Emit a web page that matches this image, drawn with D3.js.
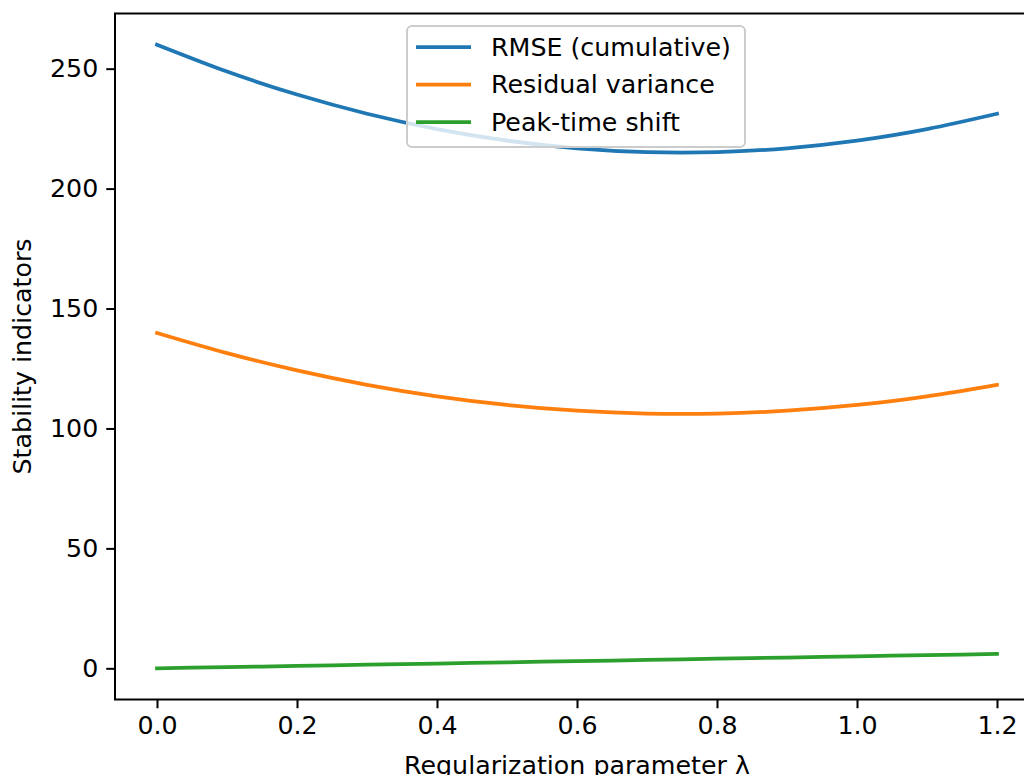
<!DOCTYPE html>
<html lang="en">
    <head>
        <meta charset="utf-8">
        <title>Stability indicators</title>
        <script type="text/javascript" src="https://cdn.jsdelivr.net/npm/d3@7"></script>
        <style type="text/css">
            body { margin: 0; background: white; overflow: hidden; }
            text { font-family: "DejaVu Sans", sans-serif; }
        </style>
    </head>

    <body>
        <script type="text/javascript">
            // Regularization parameter values
            var lambdas = [0.0, 0.1, 0.2, 0.3, 0.4, 0.5, 0.6, 0.7, 0.8, 0.9, 1.0, 1.1, 1.2];

            // Series
            var rmse     = [260.0, 248.8, 239.2, 231.2, 224.8, 220.0, 216.8, 215.2, 215.2, 216.8, 220.0, 224.8, 231.2];
            var residual = [139.8, 131.4, 124.2, 118.2, 113.4, 109.8, 107.4, 106.2, 106.2, 107.4, 109.8, 113.4, 118.2];
            var peakShift = [0.0, 0.5, 1.0, 1.5, 2.0, 2.5, 3.0, 3.5, 4.0, 4.5, 5.0, 5.5, 6.0];

            var seriesNames = ["RMSE (cumulative)", "Residual variance", "Peak-time shift"];
            var seriesColors = ["#1f77b4", "#ff7f0e", "#2ca02c"];
            var xTicks = [0.0, 0.2, 0.4, 0.6, 0.8, 1.0, 1.2];
            var yTicks = [0, 50, 100, 150, 200, 250];

            var w = 1024;
            var h = 775;
            var fontSize = 25.3;

            // Plot area (right spine falls just off the picture)
            var plotLeft = 115, plotRight = 1039, plotTop = 13.5, plotBottom = 699.5;

            var svg = d3.select("body")
                        .append("svg")
                        .attr("width", w)
                        .attr("height", h);

            var x = d3.scaleLinear().domain([-0.06, 1.26]).range([plotLeft, plotRight]);
            var y = d3.scaleLinear().domain([-13, 273]).range([plotBottom, plotTop]);

            var allSeries = [rmse, residual, peakShift];

            var line = d3.line()
                        .x(function(d, i) { return x(lambdas[i]); })
                        .y(function(d) { return y(d); })
                        .curve(d3.curveNatural);

            svg.selectAll("path.series")
                .data(allSeries)
                .enter()
                .append("path")
                .attr("class", "series")
                .attr("d", line)
                .attr("fill", "none")
                .attr("stroke", function(d, i) { return seriesColors[i]; })
                .attr("stroke-width", 3.75)
                .attr("stroke-linecap", "square");

            // Spines
            svg.append("rect")
                .attr("x", plotLeft)
                .attr("y", plotTop)
                .attr("width", plotRight - plotLeft)
                .attr("height", plotBottom - plotTop)
                .attr("fill", "none")
                .attr("stroke", "black")
                .attr("stroke-width", 2);

            // Axes
            var xAxis = d3.axisBottom(x)
                        .tickValues(xTicks)
                        .tickFormat(d3.format(".1f"))
                        .tickSizeInner(8.75)
                        .tickSizeOuter(0)
                        .tickPadding(8);

            var yAxis = d3.axisLeft(y)
                        .tickValues(yTicks)
                        .tickFormat(d3.format("d"))
                        .tickSizeInner(8.75)
                        .tickSizeOuter(0)
                        .tickPadding(8);

            var gx = svg.append("g")
                .attr("transform", "translate(0," + plotBottom + ")")
                .call(xAxis);
            var gy = svg.append("g")
                .attr("transform", "translate(" + plotLeft + ",0)")
                .call(yAxis);

            [gx, gy].forEach(function(g) {
                g.select(".domain").remove();
                g.selectAll(".tick line").attr("stroke", "black").attr("stroke-width", 2);
                g.selectAll(".tick text")
                    .attr("fill", "black")
                    .style("font-size", fontSize + "px")
                    .style("font-family", "'DejaVu Sans', sans-serif");
            });

            // Axis labels
            svg.append("text")
                .attr("x", (plotLeft + plotRight) / 2)
                .attr("y", 774)
                .attr("text-anchor", "middle")
                .style("font-size", fontSize + "px")
                .text("Regularization parameter λ");

            svg.append("text")
                .attr("transform", "translate(31," + ((plotTop + plotBottom) / 2) + ") rotate(-90)")
                .attr("text-anchor", "middle")
                .style("font-size", fontSize + "px")
                .text("Stability indicators");

            // Legend
            var legend = svg.append("g");
            legend.append("rect")
                .attr("x", 407)
                .attr("y", 26)
                .attr("width", 338)
                .attr("height", 121)
                .attr("rx", 5)
                .attr("fill", "white")
                .attr("fill-opacity", 0.8)
                .attr("stroke", "#cccccc")
                .attr("stroke-width", 2);

            var rows = legend.selectAll("g.row")
                .data(seriesNames)
                .enter()
                .append("g")
                .attr("class", "row")
                .attr("transform", function(d, i) { return "translate(0," + (47 + i * 37.5) + ")"; });

            rows.append("line")
                .attr("x1", 416)
                .attr("x2", 471)
                .attr("stroke", function(d, i) { return seriesColors[i]; })
                .attr("stroke-width", 3.75);

            rows.append("text")
                .attr("x", 491)
                .attr("dy", "0.35em")
                .style("font-size", fontSize + "px")
                .text(function(d) { return d; });
        </script>
    </body>
</html>
